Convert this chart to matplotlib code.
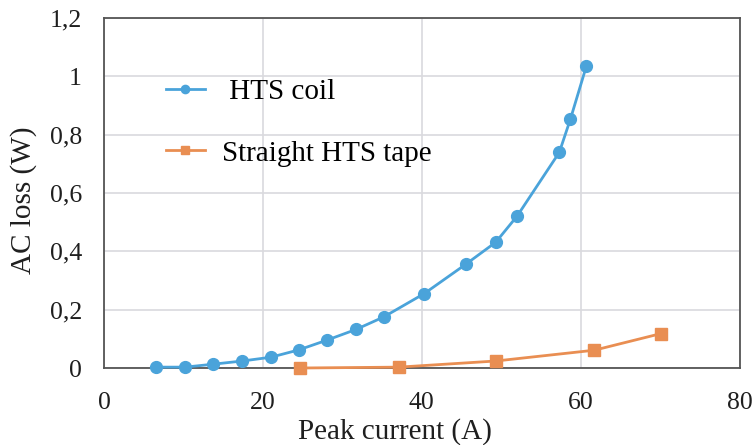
import matplotlib.pyplot as plt
from matplotlib.ticker import FixedLocator, FixedFormatter

# HTS coil
coil_current = [6.6, 10.2, 13.7, 17.4, 21.0, 24.5, 28.0, 31.7, 35.2, 40.3,
                45.5, 49.3, 52.0, 57.3, 58.7, 60.7]
coil_loss = [0.003, 0.003, 0.013, 0.024, 0.037, 0.062, 0.095, 0.132, 0.175,
             0.255, 0.355, 0.431, 0.521, 0.739, 0.853, 1.034]

# straight HTS tape
tape_current = [24.6, 37.1, 49.3, 61.7, 70.1]
tape_loss = [0.0, 0.003, 0.024, 0.061, 0.118]

x_ticks = [0, 20, 40, 60, 80]
y_ticks = [0, 0.2, 0.4, 0.6, 0.8, 1.0, 1.2]
y_tick_labels = ['0', '0,2', '0,4', '0,6', '0,8', '1', '1,2']

plt.rcParams['font.family'] = ['Liberation Serif', 'DejaVu Serif']

fig = plt.figure(figsize=(7.54, 4.45), dpi=100)
ax = fig.add_axes([0.138, 0.173, 0.843, 0.787])

ax.plot(coil_current, coil_loss, color='#4AA3DA', linewidth=2.0,
        marker='o', markersize=8.5, label=' HTS coil', clip_on=False, zorder=3)
ax.plot(tape_current, tape_loss, color='#E98E52', linewidth=2.0,
        marker='s', markersize=8, label='Straight HTS tape', clip_on=False,
        zorder=3)

ax.set_xlim(0, 80)
ax.set_ylim(0, 1.2)
ax.xaxis.set_major_locator(FixedLocator(x_ticks))
ax.yaxis.set_major_locator(FixedLocator(y_ticks))
ax.yaxis.set_major_formatter(FixedFormatter(y_tick_labels))
ax.tick_params(length=0, labelsize=18.5, colors='#1f1f1f')
ax.tick_params(axis='x', pad=17)
ax.tick_params(axis='y', pad=16)

ax.grid(True, color='#D9D9DE', linewidth=1.2)
ax.set_axisbelow(True)
for sp in ax.spines.values():
    sp.set_color('#555555')
    sp.set_linewidth(1.3)

ax.set_xlabel('Peak current (A)', fontsize=21, color='#1f1f1f', labelpad=3,
              x=0.4575)
ax.set_ylabel('AC loss (W)', fontsize=21, color='#1f1f1f', labelpad=9,
              y=0.48)

ax.legend(loc='upper left', bbox_to_anchor=(0.0975, 0.826), frameon=False,
          fontsize=21, labelspacing=1.2, handlelength=1.33,
          handletextpad=0.6, borderpad=0, borderaxespad=0, markerscale=0.7)

fig.savefig('out.png', dpi=100)
